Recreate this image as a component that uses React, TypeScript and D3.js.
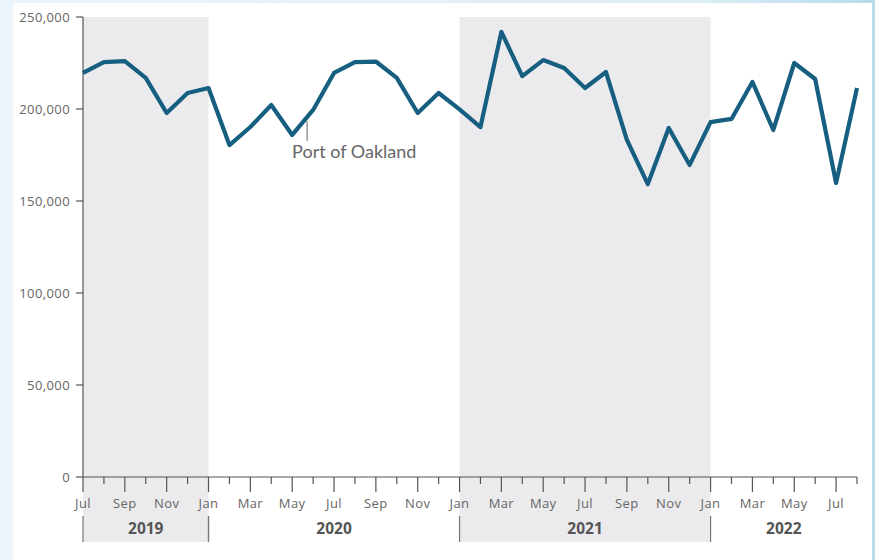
import React from "react";
import * as d3 from "d3";

const months: string[] = [
  "2019-07","2019-08","2019-09","2019-10","2019-11","2019-12",
  "2020-01","2020-02","2020-03","2020-04","2020-05","2020-06","2020-07","2020-08","2020-09","2020-10","2020-11","2020-12",
  "2021-01","2021-02","2021-03","2021-04","2021-05","2021-06","2021-07","2021-08","2021-09","2021-10","2021-11","2021-12",
  "2022-01","2022-02","2022-03","2022-04","2022-05","2022-06","2022-07","2022-08",
];
const teu: number[] = [
  219600, 225500, 226000, 216900, 197800, 208700,
  211400, 180400, 190200, 202200, 185900, 199500, 219600, 225500, 225800, 216900, 197800, 208700,
  199800, 190200, 241900, 217900, 226600, 222300, 211400, 220100, 183200, 159200, 189700, 169600,
  192900, 194600, 214700, 188600, 225000, 216300, 159800, 211400,
];
const yTicks: number[] = [0, 50000, 100000, 150000, 200000, 250000];
const years: string[] = ["2019", "2020", "2021", "2022"];
const shadedYears: string[] = ["2019", "2021"];
const seriesLabel = "Port of Oakland";
const labelMonth = "2020-06";

const W = 875, H = 560;
const parse = d3.timeParse("%Y-%m");
const dates = months.map((m) => parse(m) as Date);
const t0 = dates[0];
const mIdx = (d: Date) => d3.timeMonth.count(t0, d);
const xs = d3.scaleLinear().domain([0, dates.length - 1]).range([83, 857]);
const x = (d: Date) => xs(mIdx(d));
const y = d3.scaleLinear().domain([0, 250000]).range([477, 17]);

export default function App() {
  const line = d3.line<number>().x((_, i) => x(dates[i])).y((d) => y(d));
  const monthTicks = d3.timeMonth.range(dates[0], d3.timeMonth.offset(dates[dates.length - 1], 1));
  const fmt = d3.format(",");
  const yearSpan = (yr: string) => {
    const s = Math.max(x(parse(yr + "-01") as Date), xs.range()[0]);
    const e = Math.min(x(parse(+yr + 1 + "-01") as Date), xs.range()[1]);
    return [s, e];
  };
  const li = months.indexOf(labelMonth);
  const lx = x(dates[li]);
  const ly = y(teu[li]);
  const tickFont = "'Open Sans', Lato, sans-serif";
  const labelFont = "Lato, 'Open Sans', sans-serif";
  return (
    <div style={{ position: "fixed", left: 0, top: 0, width: W, height: H }}>
      <svg width={W} height={H} style={{ display: "block" }} fontFamily={tickFont}>
        <defs>
          <linearGradient id="bg" x1="0" x2="1" y1="0" y2="0">
            <stop offset="0" stopColor="#ecf5fb" />
            <stop offset="0.8" stopColor="#dcedf6" />
            <stop offset="0.99" stopColor="#b9dcec" />
          </linearGradient>
        </defs>
        <rect width={W} height={H} fill="url(#bg)" />
        <rect x={13} y={3} width={859} height={H - 3} fill="#ffffff" />
        {shadedYears.map((yr) => {
          const [s, e] = yearSpan(yr);
          return <rect key={yr} x={s} y={17} width={e - s} height={542 - 17} fill="#ebebee" />;
        })}
        {/* y axis */}
        <line x1={83} x2={83} y1={17} y2={477} stroke="#555" strokeWidth={1.2} />
        {yTicks.map((t) => (
          <g key={t}>
            <line x1={76} x2={83} y1={y(t)} y2={y(t)} stroke="#555" strokeWidth={1.2} />
            <text x={70} y={y(t)} dy="0.35em" textAnchor="end" fontSize={13} letterSpacing={0.4} fill="#666">
              {fmt(t)}
            </text>
          </g>
        ))}
        {/* x axis */}
        <line x1={83} x2={857} y1={477} y2={477} stroke="#555" strokeWidth={1.2} />
        {monthTicks.map((d, i) => {
          const major = d.getMonth() % 2 === 0;
          const xx = x(d);
          return (
            <g key={i}>
              <line x1={xx} x2={xx} y1={477} y2={major ? 492 : 484} stroke="#555" strokeWidth={1.2} />
              {major && (
                <text x={xx} y={508} textAnchor="middle" fontSize={13} letterSpacing={0.4} fill="#666">
                  {d3.timeFormat("%b")(d)}
                </text>
              )}
            </g>
          );
        })}
        {years.map((yr) => {
          const [s, e] = yearSpan(yr);
          return (
            <text key={yr} x={(s + e) / 2} y={534} textAnchor="middle" fontSize={15.5} fontWeight="bold" fill="#555">
              {yr}
            </text>
          );
        })}
        {years.map((yr) => yearSpan(yr)[0]).map((s, i) => (
          <line key={i} x1={s} x2={s} y1={516} y2={542} stroke="#777" strokeWidth={1.2} />
        ))}
        <line x1={yearSpan("2019")[1]} x2={yearSpan("2019")[1]} y1={516} y2={542} stroke="#777" strokeWidth={1.2} />
        {/* series */}
        <path d={line(teu) || ""} fill="none" stroke="#175f80" strokeWidth={4.2} strokeLinejoin="round" />
        {/* label */}
        <line x1={lx - 6} x2={lx - 6} y1={ly + 11} y2={ly + 31} stroke="#666" strokeWidth={1} />
        <text x={lx - 21} y={158} fontSize={18} fill="#666" fontFamily={labelFont}>
          {seriesLabel}
        </text>
      </svg>
    </div>
  );
}
